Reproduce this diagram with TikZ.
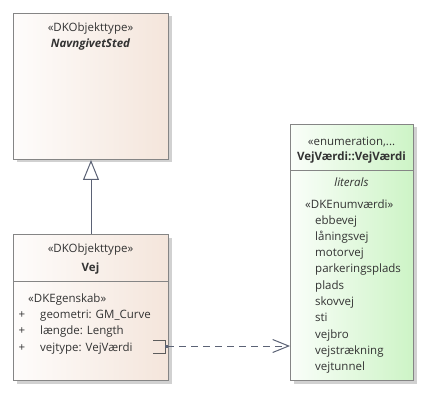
\documentclass[tikz,border=0pt]{standalone}
\usepackage{fontspec}
\setmainfont{Open Sans}
\usetikzlibrary{shadows,arrows.meta}
\definecolor{klasse}{HTML}{F4E5DB}
\definecolor{enumgroen}{HTML}{CDF4C6}
\definecolor{kant}{HTML}{858585}
\definecolor{linje}{HTML}{5B6275}
\definecolor{tekst}{HTML}{333333}
\tikzset{
  klassebox/.style={draw=kant, line width=1pt, left color=white!90!klasse, right color=klasse,
    drop shadow={shadow xshift=3pt, shadow yshift=-3pt, fill=black!18, opacity=1},
    anchor=north west, inner sep=0pt},
  enumbox/.style={klassebox, left color=white!90!enumgroen, right color=enumgroen},
  txt/.style={font=\fontsize{11.5}{13}\selectfont, text=tekst, anchor=base, inner sep=0pt},
  venstre/.style={txt, anchor=base west},
}
\begin{document}
\begin{tikzpicture}[x=1pt, y=-1pt, >=latex]
\useasboundingbox (0,0) rectangle (426,417);
% klasser
\node[klassebox, minimum width=155pt, minimum height=146pt] (navngivet) at (13,13) {};
\node[klassebox, minimum width=155pt, minimum height=146pt] (vej) at (13,234) {};
\node[enumbox, minimum width=123pt, minimum height=256pt] (vejvaerdi) at (290,124) {};
\draw[kant, line width=1pt] (13,281) -- (168,281);
\draw[kant, line width=1pt] (290,171) -- (413,171);
% NavngivetSted
\node[txt] (navnst) at (90.5,32) {«DKObjekttype»};
\node[txt, font=\fontsize{11.5}{13}\selectfont\bfseries\itshape] (navnnavn) at (90.5,48) {NavngivetSted};
% Vej
\node[txt] (vejst) at (90.5,252) {«DKObjekttype»};
\node[txt, font=\fontsize{11.5}{13}\selectfont\bfseries] (vejnavn) at (90.5,271) {Vej};
\node[venstre] (egenskab) at (28,302) {«DKEgenskab»};
\foreach \attr/\yy in {geometri: GM\_Curve/318, længde: Length/334, vejtype: VejVærdi/351}{
  \node[txt] at (22,\yy) {+};
  \node[venstre] at (40,\yy) {\attr};
}
% VejVaerdi
\node[txt] (enumst) at (351.5,146) {«enumeration,...};
\node[txt, font=\fontsize{11.5}{13}\selectfont\bfseries] (enumnavn) at (351.5,161) {VejVærdi::VejVærdi};
\node[txt, font=\fontsize{11.5}{13}\selectfont\itshape] (literals) at (351.5,187) {literals};
\node[venstre] (enumvaerdi) at (305,208) {«DKEnumværdi»};
\foreach \lit [count=\i] in {ebbevej, låningsvej, motorvej, parkeringsplads, plads, skovvej, sti, vejbro, vejstrækning, vejtunnel}{
  \pgfmathsetmacro\yy{224 + (\i-1)*16.3}
  \node[venstre] at (315,\yy) {\lit};
}
% forbindelser
\draw[linje, line width=1pt, -{Triangle[open, length=20pt, width=16pt, fill=white]}] (vej.north) -- (navngivet.south);
\draw[tekst!80, line width=1pt] (153,340) -- (165,340) -- (165,353) -- (153,353);
\fill[linje] (164.5,344.5) rectangle (167.5,347.5);
\coordinate (dep) at (167,346);
\draw[linje, line width=1pt, dash pattern=on 7pt off 5pt, -{Straight Barb[length=16pt, width=13pt]}] (dep) -- (vejvaerdi.west |- dep);
\end{tikzpicture}
\end{document}
